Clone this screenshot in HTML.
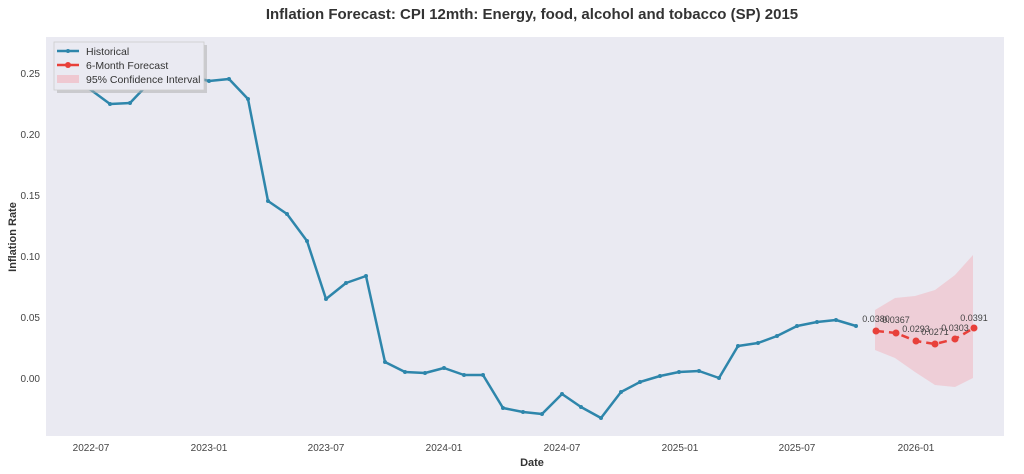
<!DOCTYPE html>
<html><head><meta charset="utf-8"><style>body{margin:0;background:#fff}svg{display:block}</style></head><body>
<svg width="1024" height="474" xmlns="http://www.w3.org/2000/svg" font-family="Liberation Sans, sans-serif">
<rect width="1024" height="474" fill="#fff"/>
<text x="532" y="19" text-anchor="middle" font-size="15" font-weight="bold" fill="#333">Inflation Forecast: CPI 12mth: Energy, food, alcohol and tobacco (SP) 2015</text>
<rect x="46" y="37" width="958" height="399" fill="#eaeaf2"/>
<g font-size="10" fill="#444" text-anchor="end">
<text x="40" y="77">0.25</text><text x="40" y="138">0.20</text><text x="40" y="199">0.15</text>
<text x="40" y="260">0.10</text><text x="40" y="321">0.05</text><text x="40" y="382">0.00</text>
</g>
<g font-size="10" fill="#444" text-anchor="middle">
<text x="91" y="451">2022-07</text><text x="209" y="451">2023-01</text><text x="326" y="451">2023-07</text>
<text x="444" y="451">2024-01</text><text x="562" y="451">2024-07</text><text x="680" y="451">2025-01</text>
<text x="797" y="451">2025-07</text><text x="916" y="451">2026-01</text>
</g>
<text x="532" y="466" text-anchor="middle" font-size="11" font-weight="bold" fill="#333">Date</text>
<text transform="translate(16,237) rotate(-90)" text-anchor="middle" font-size="11" font-weight="bold" fill="#333">Inflation Rate</text>
<polygon points="875,310 895,298 915,296 935,290 955,275 973,255 973,378 955,387 935,385 915,372 895,358 875,350" fill="#f4a6b0" opacity="0.4"/>
<polyline fill="none" stroke="#2e86ab" stroke-width="2.5" stroke-linejoin="round" points="58,70 72,80 91,90 110,104 130,103 150,82 170,70 189,76 209,81 229,79 248,99 268,201 287,214 307,241 326,299 346,283 366,276 385,362 405,372 425,373 444,368 464,375 483,375 503,408 523,412 542,414 562,394 581,407 601,418 621,392 640,382 660,376 679,372 699,371 719,378 738,346 758,343 777,336 797,326 817,322 836,320 856,326"/>
<g fill="#2e86ab">
<circle cx="110" cy="104" r="2"/><circle cx="130" cy="103" r="2"/><circle cx="209" cy="81" r="2"/><circle cx="229" cy="79" r="2"/><circle cx="248" cy="99" r="2"/><circle cx="268" cy="201" r="2"/><circle cx="287" cy="214" r="2"/><circle cx="307" cy="241" r="2"/><circle cx="326" cy="299" r="2"/><circle cx="346" cy="283" r="2"/><circle cx="366" cy="276" r="2"/><circle cx="385" cy="362" r="2"/><circle cx="405" cy="372" r="2"/><circle cx="425" cy="373" r="2"/><circle cx="444" cy="368" r="2"/><circle cx="464" cy="375" r="2"/><circle cx="483" cy="375" r="2"/><circle cx="503" cy="408" r="2"/><circle cx="523" cy="412" r="2"/><circle cx="542" cy="414" r="2"/><circle cx="562" cy="394" r="2"/><circle cx="581" cy="407" r="2"/><circle cx="601" cy="418" r="2"/><circle cx="621" cy="392" r="2"/><circle cx="640" cy="382" r="2"/><circle cx="660" cy="376" r="2"/><circle cx="679" cy="372" r="2"/><circle cx="699" cy="371" r="2"/><circle cx="719" cy="378" r="2"/><circle cx="738" cy="346" r="2"/><circle cx="758" cy="343" r="2"/><circle cx="777" cy="336" r="2"/><circle cx="797" cy="326" r="2"/><circle cx="817" cy="322" r="2"/><circle cx="836" cy="320" r="2"/><circle cx="856" cy="326" r="2"/>
</g>
<polyline fill="none" stroke="#e8403a" stroke-width="2.5" stroke-dasharray="8,5" points="876,331 896,333 916,341 935,344 955,339 974,328"/>
<g fill="#e8403a"><circle cx="876" cy="331" r="3.5"/><circle cx="896" cy="333" r="3.5"/><circle cx="916" cy="341" r="3.5"/><circle cx="935" cy="344" r="3.5"/><circle cx="955" cy="339" r="3.5"/><circle cx="974" cy="328" r="3.5"/></g>
<g font-size="9" fill="#444" text-anchor="middle">
<text x="876" y="322">0.0380</text><text x="896" y="323">0.0367</text><text x="916" y="332">0.0293</text><text x="935" y="335">0.0271</text><text x="955" y="331">0.0303</text><text x="974" y="321">0.0391</text>
</g>
<rect x="55" y="43" width="150" height="48" fill="#aaa" opacity="0.5" transform="translate(2,2)"/>
<rect x="54" y="42" width="150" height="48" fill="#eaeaf2" stroke="#ccc" stroke-width="0.8"/>
<line x1="57" y1="51" x2="79" y2="51" stroke="#2e86ab" stroke-width="2.5"/><circle cx="68" cy="51" r="2" fill="#2e86ab"/>
<line x1="57" y1="65" x2="79" y2="65" stroke="#e8403a" stroke-width="2.5"/><circle cx="68" cy="65" r="3" fill="#e8403a"/>
<rect x="57" y="75" width="22" height="8" fill="#f4a6b0" opacity="0.5"/>
<g font-size="10.5" fill="#333"><text x="86" y="55">Historical</text><text x="86" y="69">6-Month Forecast</text><text x="86" y="83">95% Confidence Interval</text></g>
</svg>
</body></html>
